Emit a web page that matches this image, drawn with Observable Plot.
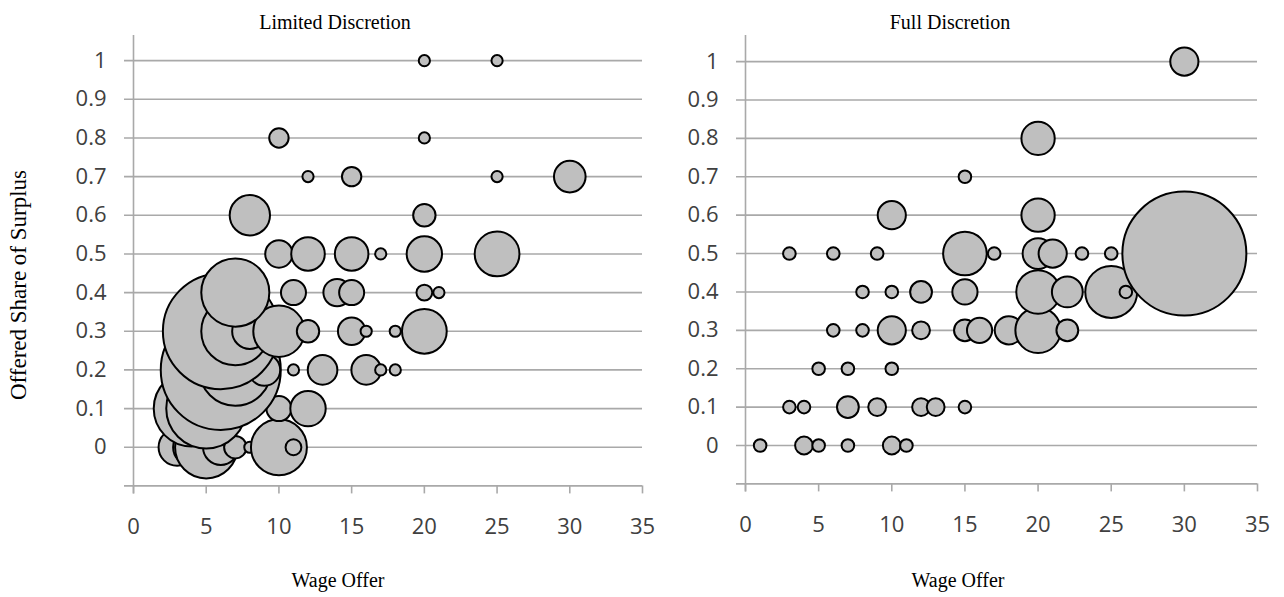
<!DOCTYPE html>
<html>
<head>
<meta charset="utf-8">
<script src="https://cdn.jsdelivr.net/npm/d3@7"></script>
<script src="https://cdn.jsdelivr.net/npm/@observablehq/plot@0.6"></script>
<style>
  body { margin: 0; background: #fff; }
  #wrap { position: relative; width: 1284px; height: 597px; overflow: hidden; background: #fff; }
  .pane { position: absolute; top: 0; }
  .lbl { position: absolute; font-family: "Liberation Serif", "Times New Roman", serif; font-size: 20px; color: #000; white-space: nowrap; transform: translate(-50%, -50%); }
  .rot { font-size: 23px; transform: translate(-50%, -50%) rotate(-90deg); }
</style>
</head>
<body>
<div id="wrap">
  <div class="pane" id="left" style="left:0px"></div>
  <div class="pane" id="right" style="left:660px"></div>
  <div class="lbl" style="left:335px; top:22px">Limited Discretion</div>
  <div class="lbl" style="left:950px; top:22px">Full Discretion</div>
  <div class="lbl" style="left:338px; top:580px">Wage Offer</div>
  <div class="lbl" style="left:958px; top:580px">Wage Offer</div>
  <div class="lbl rot" style="left:19px; top:285px">Offered Share of Surplus</div>
</div>
<script>
// ---------- data ----------
// Limited Discretion: wage offer, offered share, number of offers (bubble size)
const leftWage  = [3, 4, 5, 6, 7, 8, 10, 11,
                   4, 5, 10, 12,
                   6, 7, 9, 11, 13, 16, 17, 18,
                   6, 7, 8, 10, 12, 15, 16, 18, 20,
                   7, 11, 14, 15, 20, 21,
                   10, 12, 15, 17, 20, 25,
                   8, 20,
                   12, 15, 25, 30,
                   10, 20,
                   20, 25];
const leftShare = [0, 0, 0, 0, 0, 0, 0, 0,
                   0.1, 0.1, 0.1, 0.1,
                   0.2, 0.2, 0.2, 0.2, 0.2, 0.2, 0.2, 0.2,
                   0.3, 0.3, 0.3, 0.3, 0.3, 0.3, 0.3, 0.3, 0.3,
                   0.4, 0.4, 0.4, 0.4, 0.4, 0.4,
                   0.5, 0.5, 0.5, 0.5, 0.5, 0.5,
                   0.6, 0.6,
                   0.7, 0.7, 0.7, 0.7,
                   0.8, 0.8,
                   1, 1];
const leftCount = [11, 11, 31, 10, 4, 1, 25, 2,
                   46, 51, 5, 10,
                   115, 41, 8, 1, 7, 7, 1, 1,
                   107, 37, 10, 21, 4, 6, 1, 1, 16,
                   37, 5, 6, 5, 2, 1,
                   6, 9, 9, 1, 10, 16,
                   13, 4,
                   1, 3, 1, 8,
                   3, 1,
                   1, 1];

// Full Discretion
const rightWage  = [1, 4, 5, 7, 10, 11,
                    3, 4, 7, 9, 12, 13, 15,
                    5, 7, 10,
                    6, 8, 10, 12, 15, 16, 18, 20, 22,
                    8, 10, 12, 15, 20, 22, 25, 26,
                    3, 6, 9, 15, 17, 20, 21, 23, 25, 30,
                    10, 20,
                    15,
                    20,
                    30];
const rightShare = [0, 0, 0, 0, 0, 0,
                    0.1, 0.1, 0.1, 0.1, 0.1, 0.1, 0.1,
                    0.2, 0.2, 0.2,
                    0.3, 0.3, 0.3, 0.3, 0.3, 0.3, 0.3, 0.3, 0.3,
                    0.4, 0.4, 0.4, 0.4, 0.4, 0.4, 0.4, 0.4,
                    0.5, 0.5, 0.5, 0.5, 0.5, 0.5, 0.5, 0.5, 0.5, 0.5,
                    0.6, 0.6,
                    0.7,
                    0.8,
                    1];
const rightCount = [1, 2, 1, 1, 2, 1,
                    1, 1, 3, 2, 2, 2, 1,
                    1, 1, 1,
                    1, 1, 5, 2, 3, 4, 5, 13, 3,
                    1, 1, 3, 4, 12, 6, 17, 1,
                    1, 1, 1, 12, 1, 6, 5, 1, 1, 97,
                    5, 7,
                    1,
                    7,
                    5];

const xTicks = [0, 5, 10, 15, 20, 25, 30, 35];
const yTicks = [0, 0.1, 0.2, 0.3, 0.4, 0.5, 0.6, 0.7, 0.8, 0.9, 1];

// ---------- drawing ----------
const gridColor = "#a9a9a9";
const textColor = "#404040";

function panel(wage, share, count, cfg) {
  const data = wage.map((w, i) => ({wage: w, share: share[i], n: count[i]}));
  return Plot.plot({
    width: cfg.width,
    height: 597,
    marginLeft: cfg.marginLeft,
    marginRight: cfg.marginRight,
    marginTop: 35,
    marginBottom: cfg.marginBottom,
    style: {fontFamily: "'Open Sans', sans-serif", fontSize: "22px", background: "transparent", overflow: "visible"},
    x: {domain: [0, 35], ticks: xTicks, label: null},
    y: {domain: [-0.1, cfg.yTop], ticks: yTicks, label: null},
    r: {type: "sqrt", domain: [0, d3.max(count)], range: [0, cfg.rMax]},
    marks: [
      Plot.ruleY(yTicks, {stroke: gridColor, strokeWidth: 1.6, insetLeft: -9}),
      Plot.ruleY([-0.1], {stroke: gridColor, strokeWidth: 1.6, insetLeft: -9}),
      Plot.ruleX([0], {stroke: gridColor, strokeWidth: 1.6, insetBottom: -8}),
      Plot.axisY({ticks: yTicks, tickSize: 0, tickPadding: 27, tickFormat: d => String(d), fill: textColor, fontSize: 22, label: null}),
      Plot.axisX({ticks: xTicks, tickSize: 8, tickPadding: 24, tickFormat: d => String(d), stroke: gridColor, strokeWidth: 1.6, fill: textColor, fontSize: 22, label: null}),
      Plot.dot(data, {x: "wage", y: "share", r: "n", fill: "#bfbfbf", stroke: "#000", strokeWidth: 2, sort: null})
    ]
  });
}

document.getElementById("left").append(
  panel(leftWage, leftShare, leftCount, {width: 660, marginLeft: 133, marginRight: 18, marginBottom: 111.6, yTop: 1.065, rMax: 60})
);
document.getElementById("right").append(
  panel(rightWage, rightShare, rightCount, {width: 624, marginLeft: 85, marginRight: 27, marginBottom: 113.6, yTop: 1.068, rMax: 62})
);
</script>
</body>
</html>
